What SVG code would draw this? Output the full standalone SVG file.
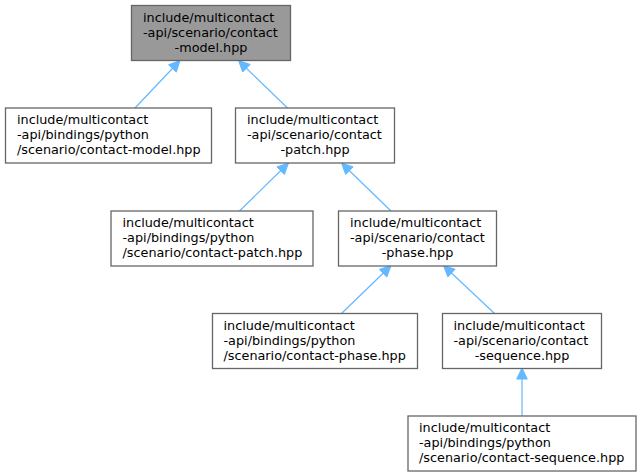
<svg xmlns="http://www.w3.org/2000/svg" width="641" height="476" viewBox="0 0 641 476">
<style>
.box{fill:#ffffff;stroke:#666666;stroke-width:1.3}
.root{fill:#999999;stroke:#666666;stroke-width:1.3}
text{font-family:"DejaVu Sans","Liberation Sans",sans-serif;font-size:12.8px;fill:#000000}
.c{text-anchor:middle}
.edge line{stroke:#63b8ff;stroke-width:1.2}
.edge polygon{fill:#63b8ff;stroke:#63b8ff;stroke-width:1}
</style>
<rect width="641" height="476" fill="#ffffff"/>
<g id="edges" class="edge">
<line x1="135" y1="108" x2="172.4" y2="68.5"/><polygon points="180,60.5 176.3,72.1 168.6,64.8"/>
<line x1="287.5" y1="108" x2="246.4" y2="68.2"/><polygon points="238.5,60.5 250.1,64.4 242.7,72"/>
<line x1="239.5" y1="211" x2="280.6" y2="170.7"/><polygon points="288.5,163 284.4,174.5 276.9,166.9"/>
<line x1="391" y1="211" x2="349.4" y2="170.7"/><polygon points="341.5,163 353.1,166.9 345.7,174.5"/>
<line x1="341.5" y1="313.5" x2="383.1" y2="273.2"/><polygon points="391,265.5 386.8,277 379.4,269.4"/>
<line x1="494.5" y1="313.5" x2="451.5" y2="273"/><polygon points="443.5,265.5 455.1,269.2 447.9,276.9"/>
<line x1="522" y1="416" x2="522" y2="379"/><polygon points="522,368 527.3,379 516.7,379"/>
</g>
<g id="node0">
<rect class="root" x="131.5" y="5.5" width="159" height="55"/>
<text x="143" y="21.5">include/multicontact</text>
<text x="143" y="36.5">-api/scenario/contact</text>
<text class="c" x="211" y="51.5">-model.hpp</text>
</g>
<g id="node1">
<rect class="box" x="5.5" y="108" width="206" height="55"/>
<text x="17" y="124">include/multicontact</text>
<text x="17" y="139">-api/bindings/python</text>
<text x="17" y="154">/scenario/contact-model.hpp</text>
</g>
<g id="node2">
<rect class="box" x="235.5" y="108" width="159" height="55"/>
<text x="247" y="124">include/multicontact</text>
<text x="247" y="139">-api/scenario/contact</text>
<text class="c" x="315" y="154">-patch.hpp</text>
</g>
<g id="node3">
<rect class="box" x="111" y="211" width="202" height="55"/>
<text x="122.5" y="227">include/multicontact</text>
<text x="122.5" y="242">-api/bindings/python</text>
<text x="122.5" y="257">/scenario/contact-patch.hpp</text>
</g>
<g id="node4">
<rect class="box" x="338.5" y="211" width="158" height="55"/>
<text x="350" y="227">include/multicontact</text>
<text x="350" y="242">-api/scenario/contact</text>
<text class="c" x="417.5" y="257">-phase.hpp</text>
</g>
<g id="node5">
<rect class="box" x="212.5" y="313.5" width="205" height="55"/>
<text x="223.5" y="329.5">include/multicontact</text>
<text x="223.5" y="344.5">-api/bindings/python</text>
<text x="223.5" y="359.5">/scenario/contact-phase.hpp</text>
</g>
<g id="node6">
<rect class="box" x="442.5" y="313.5" width="159" height="55"/>
<text x="453.5" y="329.5">include/multicontact</text>
<text x="453.5" y="344.5">-api/scenario/contact</text>
<text class="c" x="522" y="359.5">-sequence.hpp</text>
</g>
<g id="node7">
<rect class="box" x="408" y="416" width="228" height="55"/>
<text x="419" y="432">include/multicontact</text>
<text x="419" y="447">-api/bindings/python</text>
<text x="419" y="462">/scenario/contact-sequence.hpp</text>
</g>
</svg>
